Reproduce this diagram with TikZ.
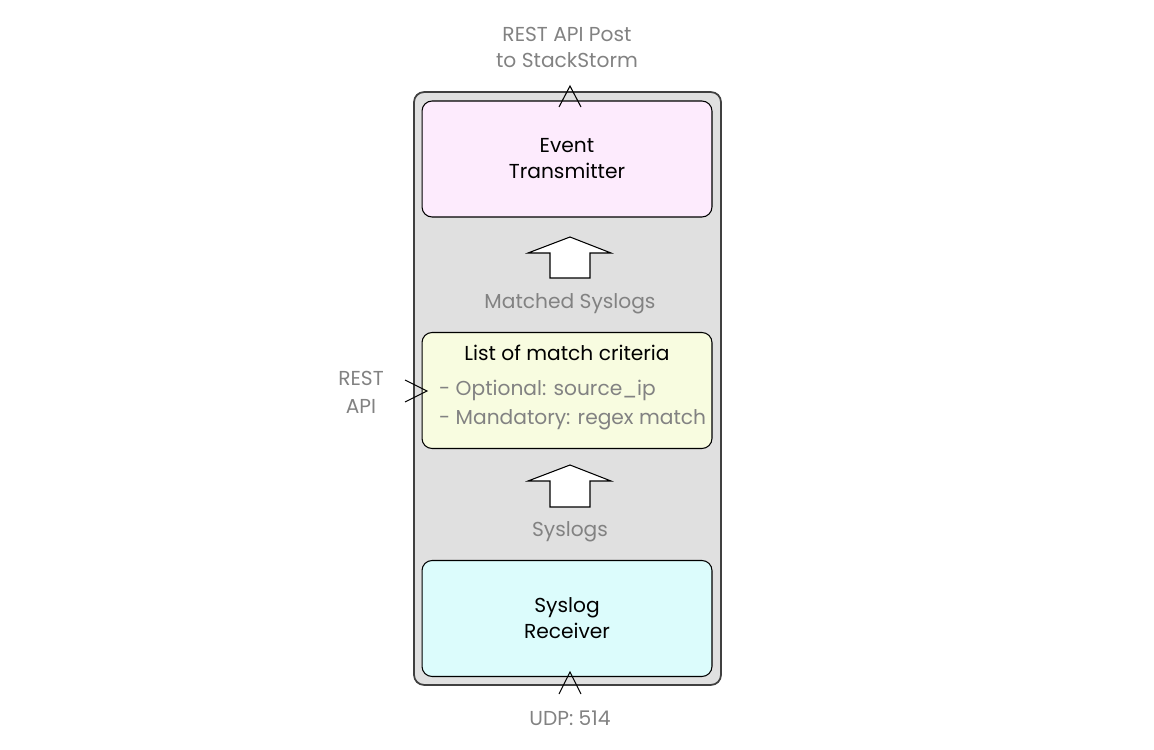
\documentclass[tikz,border=0pt]{standalone}
\usepackage{fontspec}
\setmainfont{Poppins}
\usetikzlibrary{positioning, calc}

\definecolor{framegray}{RGB}{224,224,224}
\definecolor{labelgray}{RGB}{130,130,130}
\definecolor{txpink}{RGB}{253,235,253}
\definecolor{crityellow}{RGB}{248,252,224}
\definecolor{rxcyan}{RGB}{220,252,252}

\begin{document}
\begin{tikzpicture}[x=0.02cm, y=-0.02cm,
    stage/.style={draw, rounded corners=0.2cm, line width=0.6pt,
                  minimum width=5.8cm, minimum height=2.32cm,
                  align=center, font=\fontsize{11.5}{14.8}\selectfont},
    glabel/.style={text=labelgray, align=center,
                   font=\fontsize{11.5}{14.8}\selectfont},
    chev/.style={line width=0.6pt},
    blockarrow/.style={draw, fill=white, line width=0.6pt}]
  \useasboundingbox (0,0) rectangle (1154,750);

  % container
  \node[draw=black!75, fill=framegray, rounded corners=0.2cm, line width=1pt,
        minimum width=6.14cm, minimum height=11.86cm] (frame) at (567.5,388.5) {};

  % the three stages
  \node[stage, fill=txpink] (tx) at (567,159) {Event\\Transmitter};
  \node[stage, fill=crityellow] (crit) at (567,390.5) {};
  \node[stage, fill=rxcyan] (rx) at (567,618.5) {Syslog\\Receiver};

  \node[font=\fontsize{11.5}{14.8}\selectfont] (critTitle) at (567,353) {List of match criteria};
  \node[glabel, align=left, anchor=west, font=\fontsize{11.5}{16.5}\selectfont]
    (critList) at (433,405) {- Optional: source\_ip\\- Mandatory: regex match};

  % flow labels
  \node[glabel] (matched) at (570,304) {Matched Syslogs};
  \node[glabel] (syslogs) at (570,532) {Syslogs};
  \node[glabel] (post) at (567,47) {REST API Post\\to StackStorm};
  \node[glabel] (udp) at (570,718) {UDP: 514};
  \node[glabel, font=\fontsize{11.5}{15.8}\selectfont] (api) at (361,392) {REST\\API};

  % block arrows
  \draw[blockarrow] (550,278) -- (550,253) -- (528,253) -- (570,237)
    -- (611,253) -- (590,253) -- (590,278) -- cycle;
  \draw[blockarrow] (550,507) -- (550,481) -- (528,481) -- (570,465)
    -- (611,481) -- (590,481) -- (590,507) -- cycle;

  % inlets and outlet
  \coordinate (outTip) at (570,86);
  \coordinate (inTip) at (570,672);
  \coordinate (apiTip) at (427,391);
  \draw[chev] ($(outTip)+(-11,21)$) -- (outTip) -- ($(outTip)+(11,21)$);
  \draw[chev] ($(inTip)+(-11,22)$) -- (inTip) -- ($(inTip)+(11,22)$);
  \draw[chev] ($(apiTip)+(-22,-11)$) -- (apiTip) -- ($(apiTip)+(-22,11)$);
\end{tikzpicture}
\end{document}
